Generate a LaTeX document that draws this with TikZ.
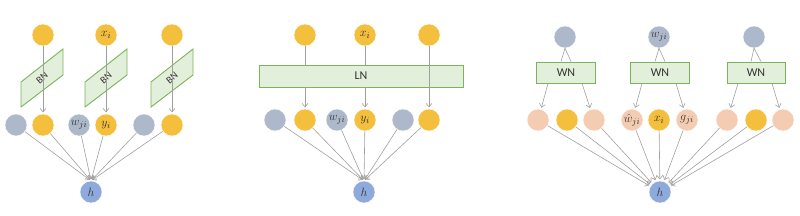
\documentclass[tikz,border=0pt]{standalone}
\usepackage{fontspec}
\setsansfont{Carlito}
\usetikzlibrary{arrows.meta}
\definecolor{cyel}{HTML}{F4BF3C}
\definecolor{cgray}{HTML}{ADB9CA}
\definecolor{cblue}{HTML}{8EA9DB}
\definecolor{cpeach}{HTML}{F4CCB2}
\definecolor{cgfill}{HTML}{E2EFDA}
\definecolor{cgreen}{HTML}{7DB35A}
\definecolor{cline}{HTML}{A0A0A0}
\definecolor{ctext}{HTML}{333333}
\begin{document}
\begin{tikzpicture}[x=1pt,y=-1pt,
  dot/.style={circle,minimum size=22pt,inner sep=0pt,draw=white,line width=0.4pt,text=ctext,font=\fontsize{12.5}{14}\selectfont},
  ydot/.style={dot,fill=cyel},
  gdot/.style={dot,fill=cgray},
  bdot/.style={dot,fill=cblue},
  pdot/.style={dot,fill=cpeach},
  arr/.style={draw=cline,line width=0.6pt,shorten >=1.5pt,-{Straight Barb[length=3.5pt,width=6pt]}},
  ln/.style={draw=cline,line width=0.6pt},
  box/.style={draw=cgreen,fill=cgfill,line width=0.9pt,inner sep=0pt,text=ctext,font=\sffamily\fontsize{12}{14}\selectfont},
  bnlabel/.style={text=ctext,rotate=40,inner sep=0pt,font=\sffamily\fontsize{10}{12}\selectfont}]
\useasboundingbox (0,0) rectangle (800,215);

% ---------- Panel 1 (BN) ----------
\node[ydot] (a1) at (43,35) {};
\node[ydot] (a2) at (106,35) {$x_i$};
\node[ydot] (a3) at (172,35) {};
\node[gdot] (b1) at (16,125) {};
\node[ydot] (b2) at (43,125) {};
\node[gdot] (b3) at (79,125) {$w_{ji}$};
\node[ydot] (b4) at (106,125) {$y_i$};
\node[gdot] (b5) at (144,125) {};
\node[ydot] (b6) at (172,125) {};
\node[bdot] (h1) at (91,192) {$h$};
\foreach \L/\n in {21/1,85/2,151/3}{
  \draw[draw=cgreen,fill=cgfill,line width=0.9pt] (\L,82) -- (\L,107) -- (\L+42,75) -- (\L+42,49) -- cycle;
  \node[bnlabel] (bn\n) at (\L+21,78) {BN};
}
\draw[arr] (a1) -- (b2);
\draw[arr] (a2) -- (b4);
\draw[arr] (a3) -- (b6);
\foreach \i in {1,...,6} \draw[arr] (b\i) -- (h1.north);

% ---------- Panel 2 (LN) ----------
\node[ydot] (c1) at (305,35) {};
\node[ydot] (c2) at (365,35) {$x_i$};
\node[ydot] (c3) at (429,35) {};
\node[gdot] (d1) at (275,120) {};
\node[ydot] (d2) at (305,120) {};
\node[gdot] (d3) at (337,120) {$w_{ji}$};
\node[ydot] (d4) at (365,120) {$y_i$};
\node[gdot] (d5) at (403,120) {};
\node[ydot] (d6) at (429,120) {};
\node[bdot] (h2) at (364,192) {$h$};
\node[box,minimum width=204pt,minimum height=22pt] (ln) at (361,76) {LN};
\draw[ln] (c1) -- (c1 |- ln.north);
\draw[arr] (c1 |- ln.south) -- (d2);
\draw[ln] (c2) -- (c2 |- ln.north);
\draw[arr] (c2 |- ln.south) -- (d4);
\draw[arr] (c3) -- (d6);
\foreach \i in {1,...,6} \draw[arr] (d\i) -- (h2.north);

% ---------- Panel 3 (WN) ----------
\node[gdot] (e1) at (565,37) {};
\node[gdot] (e2) at (659,37) {$w_{ji}$};
\node[gdot] (e3) at (754,37) {};
\node[box,minimum width=59pt,minimum height=21pt] (wn1) at (566,72.5) {WN};
\node[box,minimum width=59pt,minimum height=21pt] (wn2) at (660,72.5) {WN};
\node[box,minimum width=58pt,minimum height=21pt] (wn3) at (756,72.5) {WN};
\node[pdot] (f1) at (538,120) {};
\node[ydot] (f2) at (567,120) {};
\node[pdot] (f3) at (594,120) {};
\node[pdot] (f4) at (632,120) {$\hat{w}_{ji}$};
\node[ydot] (f5) at (659,120) {$x_i$};
\node[pdot] (f6) at (687,120) {$g_{ji}$};
\node[pdot] (f7) at (727,120) {};
\node[ydot] (f8) at (756,120) {};
\node[pdot] (f9) at (783,120) {};
\node[bdot] (h3) at (660,192) {$h$};
\foreach \k/\a/\b in {1/1/3,2/4/6,3/7/9}{
  \draw[ln] (e\k.south) -- ([xshift=-5pt]wn\k.north);
  \draw[ln] (e\k.south) -- ([xshift=5pt]wn\k.north);
  \draw[arr] ([xshift=-18pt]wn\k.south) -- (f\a);
  \draw[arr] ([xshift=16pt]wn\k.south) -- (f\b);
}
\foreach \i in {1,...,9} \draw[arr] (f\i) -- (h3);
\end{tikzpicture}
\end{document}
